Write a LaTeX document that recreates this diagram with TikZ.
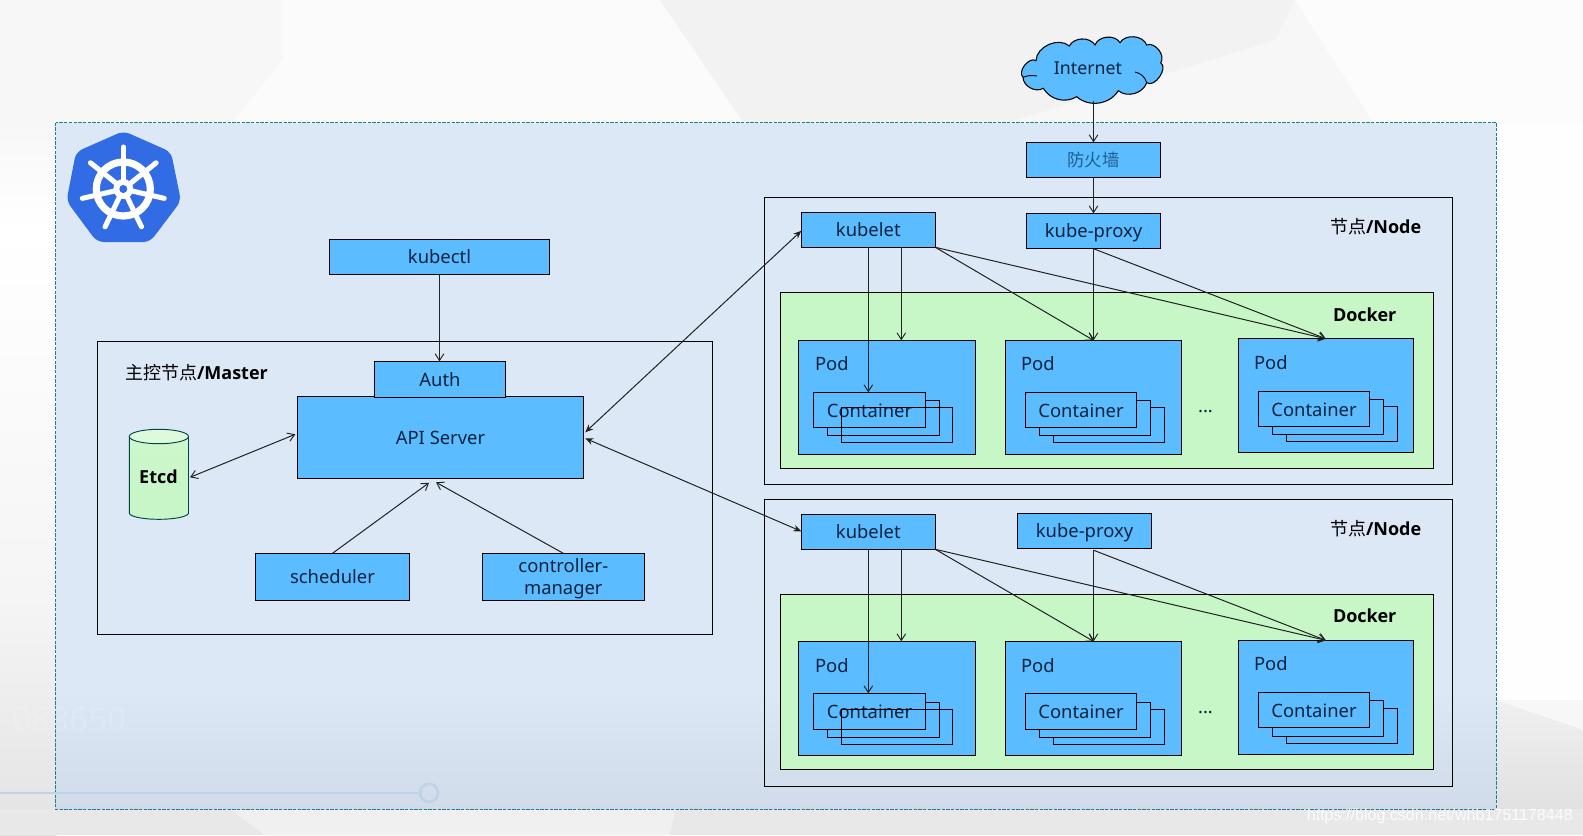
\documentclass[tikz,border=0pt]{standalone}
\usepackage{fontspec}
\setmainfont{Noto Sans}
\newfontfamily\cjk{Noto Sans CJK SC}
\newfontfamily\wmfont{Liberation Sans}
\newfontfamily\hdfont{Open Sans}
\usetikzlibrary{arrows.meta}
\definecolor{boxblue}{HTML}{5BBDFF}
\definecolor{boxgreen}{HTML}{C7F6C7}
\definecolor{panelblue}{HTML}{DCE8F6}
\definecolor{panellow}{HTML}{D1DBE9}
\definecolor{inknavy}{HTML}{0C2340}
\definecolor{kubeblue}{HTML}{326CE5}
\definecolor{dashteal}{HTML}{1C7F8C}
\definecolor{arrowink}{HTML}{222222}
\definecolor{slider}{HTML}{BFD3E8}
\tikzset{
  x=0.75pt,y=-0.75pt,
  base/.style={inner sep=0pt,outer sep=0pt,line width=0.75pt,draw=black},
  bluebase/.style={base,fill=boxblue,text=inknavy,font=\fontsize{13.8}{16.5}\selectfont,align=center},
  bluebox/.style={bluebase,text height=12pt,text depth=2.1pt},
  contbox/.style={bluebase,text height=13pt,text depth=1.8pt},
  greenbox/.style={base,fill=boxgreen},
  framebox/.style={base},
  ghostbox/.style={base,draw=none,fill=none},
  overbox/.style={base,fill=none},
  lbl/.style={inner sep=0pt,outer sep=0pt,text=inknavy,align=center,font=\fontsize{13.8}{16.5}\selectfont},
  boldlbl/.style={inner sep=0pt,outer sep=0pt,text=black,font=\hdfont\fontsize{13.5}{16}\selectfont\bfseries},
  arr/.style={draw=arrowink,line width=0.75pt,-{Straight Barb[length=5pt,width=6.5pt,line width=0.7pt]}},
  biarr/.style={draw=arrowink,line width=0.75pt,{Stealth[length=6pt,width=5pt]}-{Stealth[length=6pt,width=5pt]}},
  biopen/.style={draw=arrowink,line width=0.75pt,{Straight Barb[length=5pt,width=6.5pt,line width=0.7pt]}-{Straight Barb[length=5pt,width=6.5pt,line width=0.7pt]}},
}
\newcommand{\bx}[7]{\node[#6,minimum width={((#4)-(#2))*0.75pt},minimum height={((#5)-(#3))*0.75pt}] (#1) at ({((#2)+(#4))/2},{((#3)+(#5))/2}) {#7};}
\begin{document}
\begin{tikzpicture}
\useasboundingbox (0,0) rectangle (1583,835);
% background
\fill[white!97!black] (0,0) rectangle (1583,835);
\fill[white!98.5!black] (283,0) -- (660,0) -- (745,125) -- (230,125) -- (283,60) -- cycle;
\fill[white!95!black] (660,0) -- (1295,0) -- (1275,40) -- (1000,125) -- (745,125) -- cycle;
\fill[white!99!black] (1295,0) -- (1583,0) -- (1583,125) -- (1375,125) -- cycle;
\shade[top color=white!97!black,bottom color=white] (0,125) rectangle (56,230);
\shade[top color=white,bottom color=white!96!black] (0,230) rectangle (56,600);
\shade[top color=white!96!black,bottom color=white!89!black] (0,600) rectangle (56,835);
\fill[white!99.5!black] (1496,125) rectangle (1583,700);
\fill[white!99.5!black] (1496,700) -- (1583,730) -- (1496,730) -- cycle;
\shade[top color=white!94!black,bottom color=white!87!black] (1496,700) -- (1583,730) -- (1583,835) -- (1496,835) -- cycle;
\fill[white!91!black] (0,809) rectangle (1583,835);
\fill[white!94!black] (230,809) -- (675,809) -- (670,835) -- (265,835) -- cycle;
% panel
\fill[panelblue] (55.5,122.5) rectangle (1496,690);
\shade[top color=panelblue,bottom color=panellow] (55.5,690) rectangle (1496,809);
\draw[dashteal,line width=0.6pt,dash pattern=on 2.5pt off 1pt] (55.5,122.5) rectangle (1496,809);
% faint marks
\node[anchor=east,inner sep=0pt,text=white,opacity=0.14,font=\fontsize{25}{25}\selectfont] (faintnum) at (127,720) {083650};
\draw[slider,line width=1.6pt] (0,793) -- (420,793);
\draw[slider,line width=2pt] (429,793) circle (9);
% logo
\fill[kubeblue,rounded corners=5pt] (123.5,131) -- (171,152) -- (181,201) -- (150,242) -- (97,242) -- (66.5,201) -- (76,152) -- cycle;
\begin{scope}[shift={(123.3,189)}]
  \draw[white,line width=5.4pt] (0,0) circle (27);
  \foreach \a in {0,1,...,6}{
    \draw[white,line width=3.8pt,line cap=round] (0,0) -- ({-90+\a*360/7}:42);
  }
  \fill[white] (0,0) circle (10);
  \fill[kubeblue] (0,0) circle (4);
\end{scope}
% cloud
\draw[fill=boxblue,line width=0.8pt,draw=black]
  (1023,77.3) to[bend left=85] (1036,60.7) to[bend left=65] (1069.3,46) to[bend left=60] (1095,45)
  to[bend left=65] (1120,42.7) to[bend left=65] (1146.7,45) to[bend left=75] (1160.7,62.7)
  to[bend left=90] (1146.7,82.7) to[bend left=55] (1118.3,90.7) to[bend left=50] (1076.7,96.7)
  to[bend left=45] (1043.3,88.3) to[bend left=60] cycle;
\draw[line width=0.7pt] (1135,72) to[bend left=30] (1146.7,82.7);
\draw[line width=0.7pt] (1023,77.3) to[bend left=15] (1037,76);
\bx{cloudbox}{1021}{38}{1166}{101}{ghostbox}{}
\node[lbl,font=\fontsize{13.3}{16}\selectfont] (internetlabel) at (1088,68.5) {Internet};
% master
\bx{master}{97.3}{341.3}{712.3}{634.3}{framebox}{}
\bx{kubectl}{329.3}{239.3}{549.7}{274.3}{bluebox}{kubectl}
\bx{api}{297.3}{396.3}{583.7}{478.3}{contbox}{API Server}
\bx{auth}{374.3}{361.3}{505.7}{397.7}{bluebox}{Auth}
\bx{scheduler}{255.3}{553.3}{409.7}{600.3}{bluebox}{scheduler}
\bx{controller}{482.3}{553.3}{644.3}{600.3}{bluebase}{}
\node[lbl] (controllerlabel) at (563.3,578.5) {controller-\\manager};
\node[boldlbl,anchor=west] (masterlabel) at (125,372.7) {{\cjk\mdseries 主控节点}/Master};
% etcd
\draw[draw=black!45!teal,line width=0.7pt,top color=boxgreen!92!white,bottom color=boxgreen]
  (129.3,436.5) -- (129.3,513) arc[start angle=180,end angle=360,x radius=29.6,y radius=-6.3] -- (188.5,436.5) -- cycle;
\draw[draw=black!45!teal,line width=0.7pt,fill=boxgreen!60!white] (158.9,436.5) ellipse[x radius=29.6,y radius=7.2];
\bx{etcd}{129.3}{429.3}{188.5}{519.3}{ghostbox}{}
\node[boldlbl] (etcdlabel) at (158.5,477) {Etcd};
% firewall
\bx{firewall}{1026.3}{142.3}{1160.7}{177.3}{bluebase}{{\cjk\fontsize{13}{16}\selectfont\color[HTML]{1E5F90}防火墙}}
% node A
\bx{nodeA}{764.3}{197.3}{1452.3}{484.3}{framebox}{}
\bx{dockerA}{780.7}{292.3}{1433.3}{468.3}{greenbox}{}
\bx{kubeletA}{801.3}{212.3}{935.3}{247.3}{bluebox}{kubelet}
\bx{proxyA}{1026.3}{213.3}{1160.7}{248.7}{bluebox}{kube-proxy}
\node[boldlbl,anchor=west] (nodelabelA) at (1330,227) {{\cjk\mdseries 节点}/Node};
\node[boldlbl,anchor=west] (dockerlabelA) at (1333,315) {Docker};
\bx{podAa}{798.3}{340.3}{975.3}{454.3}{bluebase}{}
\node[lbl,anchor=west] (podlabelAa) at (815,363.5) {Pod};
\bx{cAab}{827.3}{400.3}{939.7}{435.7}{bluebase}{}
\bx{cAaa}{813.3}{392.3}{925.7}{427.7}{contbox}{Container}
\bx{cAac}{841.3}{407.3}{952.7}{442.7}{overbox}{}
\bx{podAb}{1005.3}{340.3}{1181.7}{454.3}{bluebase}{}
\node[lbl,anchor=west] (podlabelAb) at (1021,363.5) {Pod};
\bx{cAbc}{1053.3}{407.3}{1164.7}{442.7}{bluebase}{}
\bx{cAbb}{1039.3}{400.3}{1150.7}{435.7}{bluebase}{}
\bx{cAba}{1025.3}{392.3}{1136.7}{427.7}{contbox}{Container}
\node[lbl,font=\fontsize{13.8}{16.5}\selectfont\bfseries] (dotsA) at (1205.5,412) {...};
\bx{podAc}{1238.3}{338.7}{1413.3}{452.3}{bluebase}{}
\node[lbl,anchor=west] (podlabelAc) at (1254,362.5) {Pod};
\bx{cAcc}{1286.3}{406.3}{1397.7}{441.7}{bluebase}{}
\bx{cAcb}{1272.3}{399.3}{1383.7}{434.7}{bluebase}{}
\bx{cAca}{1258.3}{391.3}{1369.7}{426.7}{contbox}{Container}
% node B
\bx{nodeB}{764.3}{499.3}{1452.3}{786.3}{framebox}{}
\bx{dockerB}{780.7}{594.3}{1433.3}{769.7}{greenbox}{}
\bx{kubeletB}{801.3}{514.3}{935.3}{549.3}{bluebox}{kubelet}
\bx{proxyB}{1017.3}{513.3}{1151.7}{548.7}{bluebox}{kube-proxy}
\node[boldlbl,anchor=west] (nodelabelB) at (1330,529) {{\cjk\mdseries 节点}/Node};
\node[boldlbl,anchor=west] (dockerlabelB) at (1333,616) {Docker};
\bx{podBa}{798.3}{641.3}{975.3}{755.7}{bluebase}{}
\node[lbl,anchor=west] (podlabelBa) at (815,665.5) {Pod};
\bx{cBab}{827.3}{702.3}{939.7}{737.7}{bluebase}{}
\bx{cBaa}{813.3}{693.3}{925.7}{729.3}{contbox}{Container}
\bx{cBac}{841.3}{709.3}{952.7}{744.7}{overbox}{}
\bx{podBb}{1005.3}{641.3}{1181.7}{755.7}{bluebase}{}
\node[lbl,anchor=west] (podlabelBb) at (1021,665.5) {Pod};
\bx{cBbc}{1053.3}{709.3}{1164.7}{744.7}{bluebase}{}
\bx{cBbb}{1039.3}{702.3}{1150.7}{737.7}{bluebase}{}
\bx{cBba}{1025.3}{693.3}{1136.7}{729.3}{contbox}{Container}
\node[lbl,font=\fontsize{13.8}{16.5}\selectfont\bfseries] (dotsB) at (1205.5,713) {...};
\bx{podBc}{1238.3}{640.3}{1413.3}{754.7}{bluebase}{}
\node[lbl,anchor=west] (podlabelBc) at (1254,664) {Pod};
\bx{cBcc}{1286.3}{708.3}{1397.7}{743.7}{bluebase}{}
\bx{cBcb}{1272.3}{700.3}{1383.7}{736.7}{bluebase}{}
\bx{cBca}{1258.3}{692.3}{1369.7}{727.7}{contbox}{Container}
% connectors
\draw[arr] (cloudbox.south) -- (firewall.north);
\draw[arr] (firewall.south) -- (proxyA.north);
\draw[arr] (kubectl.south) -- (kubectl.south |- auth.north);
\draw[arr] (scheduler.north) -- ([shift={(-11.5,4.5)}]api.south);
\draw[arr] (controller.north) -- ([shift={(-4.5,4)}]api.south);
\draw[biopen] ([shift={(1.5,3)}]etcd.east) -- ([shift={(-2,-3)}]api.west);
\draw[biarr] ([shift={(1.5,-5)}]api.east) -- ([shift={(0,1)}]kubeletA.west);
\draw[biarr] ([shift={(1.5,1)}]api.east) -- ([shift={(0,-0.5)}]kubeletB.west);
\draw[arr] (kubeletA.south) -- (kubeletA.south |- cAaa.north);
\draw[arr] ([shift={(33,0)}]kubeletA.south) -- ([shift={(14.5,0)}]podAa.north);
\draw[arr] (kubeletA.south east) -- (podAb.north);
\draw[arr] (kubeletA.south east) -- (podAc.north);
\draw[arr] (proxyA.south) -- (podAb.north);
\draw[arr] (proxyA.south) -- (podAc.north);
\draw[arr] (kubeletB.south) -- (kubeletB.south |- cBaa.north);
\draw[arr] ([shift={(33,0)}]kubeletB.south) -- ([shift={(14.5,0)}]podBa.north);
\draw[arr] (kubeletB.south east) -- (podBb.north);
\draw[arr] (kubeletB.south east) -- (podBc.north);
\draw[arr] ([shift={(9,1.5)}]proxyB.south) -- (podBb.north);
\draw[arr] ([shift={(9,1.5)}]proxyB.south) -- (podBc.north);
\node[anchor=east,inner sep=0pt,text=white,opacity=0.85,font=\wmfont\fontsize{12.05}{14}\selectfont] (watermark) at (1573,816) {https://blog.csdn.net/whb1751178448};
\end{tikzpicture}
\end{document}
